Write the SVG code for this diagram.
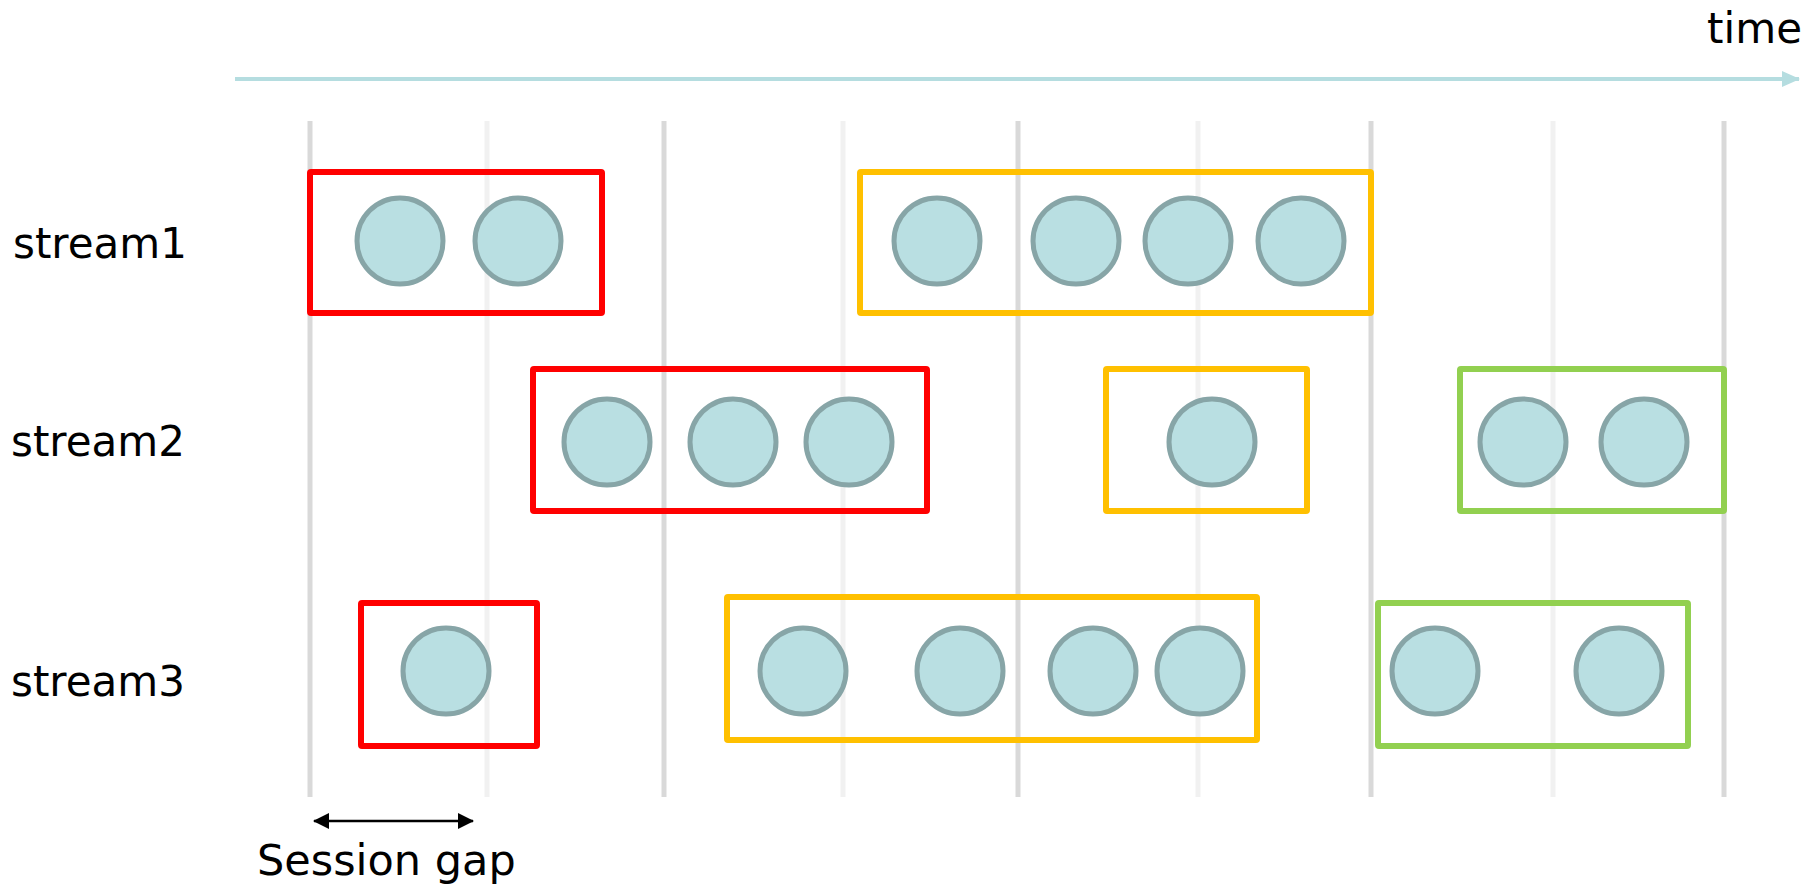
<svg xmlns="http://www.w3.org/2000/svg" width="1813" height="890" viewBox="0 0 1813 890">
<style>
.lbl{font-family:"DejaVu Sans",sans-serif;font-size:42px;fill:#000}
.gd{stroke:#d9d9d9;stroke-width:5}
.gl{stroke:#f1f1f1;stroke-width:5}
.ev{fill:#b9dfe2;stroke:#87a5a7;stroke-width:5}
.red{fill:none;stroke:#ff0000;stroke-width:6}
.yel{fill:none;stroke:#ffc000;stroke-width:6}
.grn{fill:none;stroke:#92d050;stroke-width:6}
</style>
<defs>
<marker id="ta" markerWidth="18" markerHeight="16" refX="17" refY="8" orient="auto" markerUnits="userSpaceOnUse"><path d="M0,0 L18,8 L0,16 Z" fill="#b5dde0"/></marker>
<marker id="ba" markerWidth="16" markerHeight="16" refX="15" refY="8" orient="auto-start-reverse" markerUnits="userSpaceOnUse"><path d="M0,0 L16,8 L0,16 Z" fill="#000"/></marker>
</defs>
<rect width="1813" height="890" fill="#fff"/>
<g id="grid">
<line class="gd" x1="310" y1="121" x2="310" y2="797"/>
<line class="gl" x1="487" y1="121" x2="487" y2="797"/>
<line class="gd" x1="664" y1="121" x2="664" y2="797"/>
<line class="gl" x1="843" y1="121" x2="843" y2="797"/>
<line class="gd" x1="1018" y1="121" x2="1018" y2="797"/>
<line class="gl" x1="1198" y1="121" x2="1198" y2="797"/>
<line class="gd" x1="1371" y1="121" x2="1371" y2="797"/>
<line class="gl" x1="1553" y1="121" x2="1553" y2="797"/>
<line class="gd" x1="1724" y1="121" x2="1724" y2="797"/>
</g>
<g id="connectors">
<line x1="235" y1="79" x2="1799" y2="79" stroke="#b5dde0" stroke-width="4" marker-end="url(#ta)"/>
<line x1="314" y1="821" x2="473" y2="821" stroke="#000" stroke-width="2.5" marker-start="url(#ba)" marker-end="url(#ba)"/>
</g>
<g id="axis-label"><text class="lbl" x="1802" y="43" text-anchor="end">time</text></g>
<g id="labels">
<text class="lbl" x="13" y="258">stream1</text>
<text class="lbl" x="11" y="456">stream2</text>
<text class="lbl" x="11" y="696">stream3</text>
<text class="lbl" x="257" y="875" style="font-size:43px">Session gap</text>
</g>
<g id="s1-w1">
<rect class="red" x="310" y="172" width="292" height="141" rx="1"/>
<circle class="ev" cx="400" cy="241" r="43"/>
<circle class="ev" cx="518" cy="241" r="43"/>
</g>
<g id="s1-w2">
<rect class="yel" x="860" y="172" width="511" height="141" rx="1"/>
<circle class="ev" cx="937" cy="241" r="43"/>
<circle class="ev" cx="1076" cy="241" r="43"/>
<circle class="ev" cx="1188" cy="241" r="43"/>
<circle class="ev" cx="1301" cy="241" r="43"/>
</g>
<g id="s2-w1">
<rect class="red" x="533" y="369" width="394" height="142" rx="1"/>
<circle class="ev" cx="607" cy="442" r="43"/>
<circle class="ev" cx="733" cy="442" r="43"/>
<circle class="ev" cx="849" cy="442" r="43"/>
</g>
<g id="s2-w2">
<rect class="yel" x="1106" y="369" width="201" height="142" rx="1"/>
<circle class="ev" cx="1212" cy="442" r="43"/>
</g>
<g id="s2-w3">
<rect class="grn" x="1460" y="369" width="264" height="142" rx="1"/>
<circle class="ev" cx="1523" cy="442" r="43"/>
<circle class="ev" cx="1644" cy="442" r="43"/>
</g>
<g id="s3-w1">
<rect class="red" x="361" y="603" width="176" height="143" rx="1"/>
<circle class="ev" cx="446" cy="671" r="43"/>
</g>
<g id="s3-w2">
<rect class="yel" x="727" y="597" width="530" height="143" rx="1"/>
<circle class="ev" cx="803" cy="671" r="43"/>
<circle class="ev" cx="960" cy="671" r="43"/>
<circle class="ev" cx="1093" cy="671" r="43"/>
<circle class="ev" cx="1200" cy="671" r="43"/>
</g>
<g id="s3-w3">
<rect class="grn" x="1378" y="603" width="310" height="143" rx="1"/>
<circle class="ev" cx="1435" cy="671" r="43"/>
<circle class="ev" cx="1619" cy="671" r="43"/>
</g>
</svg>
